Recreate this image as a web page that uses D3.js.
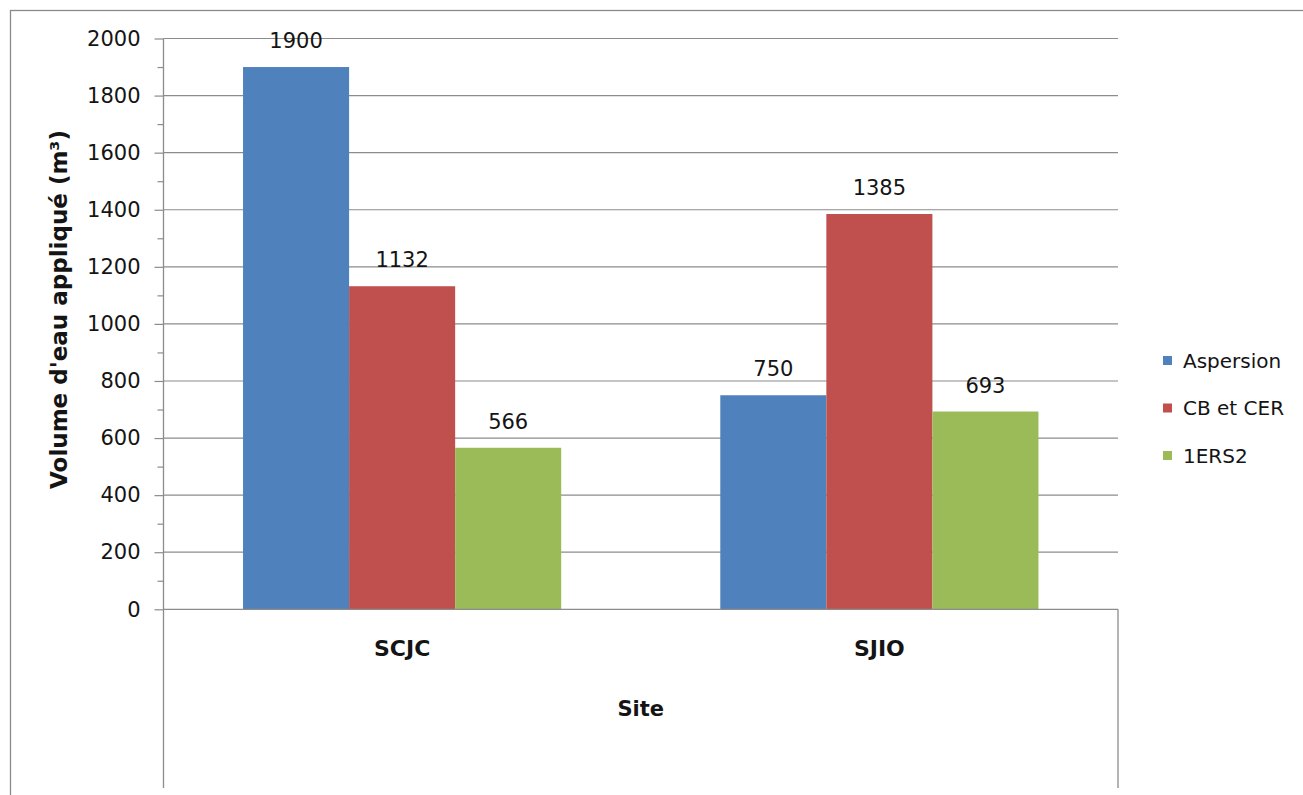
<!DOCTYPE html>
<html>
<head>
<meta charset="utf-8">
<script src="https://cdn.jsdelivr.net/npm/d3@7"></script>
<style>
  html, body { margin: 0; padding: 0; background: #fff; }
  svg { display: block; }
  text { font-family: "DejaVu Sans", sans-serif; fill: #141414; }
</style>
</head>
<body>
<svg id="chart" width="1303" height="795"></svg>
<script>
// Sites (categories), irrigation methods (series) and applied volumes (m³)
const sites = ["SCJC", "SJIO"];
const methods = ["Aspersion", "CB et CER", "1ERS2"];
const aspersion = [1900, 750];
const cbEtCer = [1132, 1385];
const ers2 = [566, 693];
const yTicks = [0, 200, 400, 600, 800, 1000, 1200, 1400, 1600, 1800, 2000];
const yMinorTicks = [100, 300, 500, 700, 900, 1100, 1300, 1500, 1700, 1900];
const colors = ["#4F81BD", "#C0504D", "#9BBB59"];

const seriesValues = [aspersion, cbEtCer, ers2];
const rows = sites.map((s, i) => ({
  site: s,
  values: methods.map((m, j) => ({ method: m, value: seriesValues[j][i] }))
}));

const svg = d3.select("#chart");

// Plot frame
const plot = { left: 163.5, right: 1118, top: 38.5, bottom: 609.3 };
const axisBottomEnd = 788;

// Outer chart border (open at right/bottom edge of the page)
svg.append("rect")
  .attr("x", 10.5).attr("y", 10.5)
  .attr("width", 1310).attr("height", 800)
  .attr("fill", "none").attr("stroke", "#8a8a8a").attr("stroke-width", 1.3);

const y = d3.scaleLinear().domain([0, 2000]).range([plot.bottom, plot.top]);
const x0 = d3.scaleBand().domain(sites).range([plot.left, plot.right]).padding(0);
const x1 = d3.scaleBand().domain(methods).range([0, x0.bandwidth()])
  .paddingInner(0).paddingOuter(0.75);
const color = d3.scaleOrdinal().domain(methods).range(colors);

// Horizontal gridlines
svg.append("g")
  .selectAll("line")
  .data(yTicks.filter(d => d > 0))
  .join("line")
  .attr("x1", plot.left).attr("x2", plot.right)
  .attr("y1", d => y(d)).attr("y2", d => y(d))
  .attr("stroke", "#8c8c8c").attr("stroke-width", 1.2);

// Bars
const groups = svg.append("g")
  .selectAll("g")
  .data(rows)
  .join("g")
  .attr("transform", d => `translate(${x0(d.site)},0)`);

groups.selectAll("rect")
  .data(d => d.values)
  .join("rect")
  .attr("x", d => x1(d.method))
  .attr("y", d => y(d.value))
  .attr("width", x1.bandwidth())
  .attr("height", d => y(0) - y(d.value))
  .attr("fill", d => color(d.method));

// Value labels above the bars
groups.selectAll("text.value")
  .data(d => d.values)
  .join("text")
  .attr("class", "value")
  .attr("x", d => x1(d.method) + x1.bandwidth() / 2)
  .attr("y", d => y(d.value) - 19)
  .attr("text-anchor", "middle")
  .attr("font-size", 21)
  .text(d => d.value);

// Y axis with major and minor ticks
const yAxis = d3.axisLeft(y).tickValues(yTicks).tickSize(9).tickPadding(14)
  .tickFormat(d3.format("d"));
const gy = svg.append("g").attr("transform", `translate(${plot.left},0)`).call(yAxis);
gy.select(".domain").remove();
gy.selectAll(".tick line").attr("stroke", "#8c8c8c").attr("stroke-width", 1.2);
gy.selectAll(".tick text").attr("font-size", 21).attr("fill", "#141414")
  .attr("font-family", "DejaVu Sans, sans-serif");

const yMinor = d3.axisLeft(y).tickValues(yMinorTicks).tickSize(6).tickFormat("");
const gym = svg.append("g").attr("transform", `translate(${plot.left},0)`).call(yMinor);
gym.select(".domain").remove();
gym.selectAll(".tick line").attr("stroke", "#8c8c8c").attr("stroke-width", 1.2);

// Axis lines: vertical axis extends down through the category label area
svg.append("line")
  .attr("x1", plot.left).attr("x2", plot.left)
  .attr("y1", plot.top).attr("y2", axisBottomEnd)
  .attr("stroke", "#8c8c8c").attr("stroke-width", 1.3);
svg.append("line")
  .attr("x1", plot.right).attr("x2", plot.right)
  .attr("y1", plot.bottom).attr("y2", axisBottomEnd)
  .attr("stroke", "#8c8c8c").attr("stroke-width", 1.3);
svg.append("line")
  .attr("x1", plot.left).attr("x2", plot.right)
  .attr("y1", y(0)).attr("y2", y(0))
  .attr("stroke", "#8c8c8c").attr("stroke-width", 1.3);

// Category labels
svg.append("g")
  .selectAll("text")
  .data(sites)
  .join("text")
  .attr("x", d => x0(d) + x0.bandwidth() / 2)
  .attr("y", 656)
  .attr("text-anchor", "middle")
  .attr("font-size", 22)
  .attr("font-weight", "bold")
  .text(d => d);

// Axis titles
svg.append("text")
  .attr("x", (plot.left + plot.right) / 2)
  .attr("y", 716)
  .attr("text-anchor", "middle")
  .attr("font-size", 21)
  .attr("font-weight", "bold")
  .text("Site");

svg.append("text")
  .attr("transform", "translate(67,309.5) rotate(-90)")
  .attr("text-anchor", "middle")
  .attr("font-size", 23)
  .attr("font-weight", "bold")
  .text("Volume d'eau appliqué (m³)");

// Legend
const legend = svg.append("g")
  .selectAll("g")
  .data(methods)
  .join("g")
  .attr("transform", (d, i) => `translate(1163,${356 + i * 47.5})`);
legend.append("rect")
  .attr("width", 9).attr("height", 9)
  .attr("fill", d => color(d));
legend.append("text")
  .attr("x", 20).attr("y", 4.5)
  .attr("dy", "0.36em")
  .attr("font-size", 20)
  .text(d => d);
</script>
</body>
</html>
